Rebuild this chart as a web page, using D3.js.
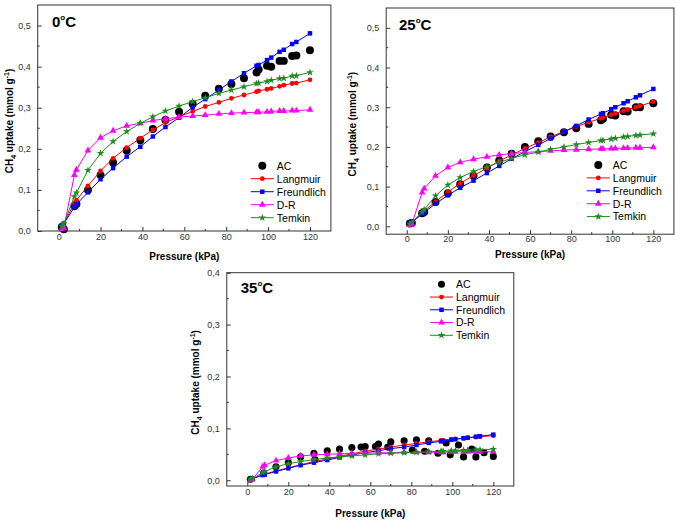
<!DOCTYPE html>
<html>
<head>
<meta charset="utf-8">
<script src="https://cdn.jsdelivr.net/npm/d3@7"></script>
<style>
  body { margin: 0; background: #fff; }
  svg { display: block; font-family: "Liberation Sans", Arial, sans-serif; }
</style>
</head>
<body>
<main></main>
<script>
// pressure points (kPa) shared by the fitted models and AC in the 0 and 25 C panels
const pressure = [1.5, 2.5, 7.5, 8.5, 14, 20, 26, 32.5, 39, 45, 51, 57.5, 64, 70, 76.5, 82.5, 88.5, 94.5, 95.5, 99.5, 101.5, 105.5, 107.5, 111.5, 113.5, 120];

const ac0 = [0.010, 0.004, 0.060, 0.066, 0.100, 0.136, 0.167, 0.196, 0.221, 0.248, 0.270, 0.290, 0.309, 0.329, 0.346, 0.358, 0.372, 0.386, 0.393, 0.402, 0.400, 0.414, 0.414, 0.426, 0.427, 0.440];
const langmuir0 = [0.012, 0.018, 0.068, 0.075, 0.110, 0.146, 0.177, 0.203, 0.226, 0.246, 0.264, 0.278, 0.291, 0.303, 0.313, 0.323, 0.331, 0.339, 0.341, 0.345, 0.347, 0.352, 0.355, 0.359, 0.360, 0.368];
const freundlich0 = [0.013, 0.018, 0.058, 0.065, 0.094, 0.126, 0.153, 0.181, 0.205, 0.230, 0.253, 0.276, 0.301, 0.321, 0.343, 0.364, 0.384, 0.402, 0.404, 0.416, 0.422, 0.436, 0.441, 0.455, 0.460, 0.481];
const dr0 = [0.004, 0.008, 0.136, 0.149, 0.196, 0.227, 0.244, 0.256, 0.262, 0.269, 0.273, 0.277, 0.280, 0.282, 0.285, 0.287, 0.288, 0.289, 0.289, 0.290, 0.291, 0.292, 0.292, 0.293, 0.293, 0.295];
const temkin0 = [0.012, 0.018, 0.084, 0.093, 0.148, 0.189, 0.218, 0.242, 0.262, 0.278, 0.292, 0.304, 0.315, 0.324, 0.335, 0.343, 0.351, 0.359, 0.360, 0.364, 0.367, 0.371, 0.372, 0.377, 0.378, 0.386];

const ac25 = [0.007, 0.008, 0.033, 0.036, 0.061, 0.083, 0.106, 0.127, 0.148, 0.166, 0.183, 0.200, 0.214, 0.226, 0.237, 0.247, 0.258, 0.267, 0.271, 0.281, 0.279, 0.290, 0.289, 0.300, 0.300, 0.310];
const langmuir25 = [0.006, 0.010, 0.034, 0.039, 0.062, 0.086, 0.108, 0.128, 0.146, 0.164, 0.180, 0.196, 0.211, 0.225, 0.239, 0.251, 0.262, 0.272, 0.274, 0.281, 0.284, 0.291, 0.294, 0.300, 0.303, 0.314];
const freundlich25 = [0.006, 0.010, 0.031, 0.035, 0.057, 0.078, 0.097, 0.115, 0.134, 0.152, 0.170, 0.188, 0.205, 0.221, 0.238, 0.253, 0.269, 0.283, 0.285, 0.295, 0.300, 0.310, 0.315, 0.325, 0.330, 0.346];
const dr25 = [0.003, 0.006, 0.085, 0.095, 0.127, 0.148, 0.161, 0.169, 0.175, 0.180, 0.183, 0.186, 0.188, 0.190, 0.192, 0.193, 0.194, 0.195, 0.195, 0.196, 0.196, 0.197, 0.197, 0.198, 0.198, 0.199];
const temkin25 = [0.006, 0.010, 0.036, 0.042, 0.077, 0.104, 0.123, 0.138, 0.150, 0.161, 0.171, 0.180, 0.187, 0.194, 0.200, 0.206, 0.211, 0.216, 0.217, 0.220, 0.222, 0.225, 0.226, 0.229, 0.230, 0.233];

// 35 C: AC was measured at its own pressures
const pressureAc35 = [1.5, 8, 14, 20, 26, 32.5, 33, 39, 45, 51, 55.5, 57.5, 62.5, 64, 68.5, 70, 76.5, 80.5, 82.5, 86.5, 88.5, 93, 97, 99, 103, 105.5, 109.5, 111.5, 115.5, 120];
const ac35 = [0.002, 0.014, 0.026, 0.034, 0.045, 0.052, 0.040, 0.057, 0.060, 0.063, 0.064, 0.065, 0.065, 0.070, 0.064, 0.074, 0.076, 0.058, 0.078, 0.056, 0.076, 0.052, 0.072, 0.049, 0.068, 0.045, 0.060, 0.045, 0.053, 0.046];
const langmuir35 = [0.002, 0.003, 0.011, 0.012, 0.018, 0.024, 0.030, 0.036, 0.041, 0.046, 0.051, 0.056, 0.060, 0.064, 0.068, 0.071, 0.074, 0.077, 0.077, 0.079, 0.080, 0.081, 0.082, 0.083, 0.084, 0.086];
const freundlich35 = [0.002, 0.003, 0.010, 0.011, 0.017, 0.023, 0.029, 0.034, 0.039, 0.044, 0.049, 0.053, 0.057, 0.061, 0.064, 0.068, 0.072, 0.075, 0.076, 0.078, 0.079, 0.081, 0.082, 0.084, 0.085, 0.088];
const dr35 = [0.001, 0.002, 0.026, 0.029, 0.038, 0.043, 0.047, 0.049, 0.050, 0.051, 0.052, 0.052, 0.053, 0.053, 0.054, 0.054, 0.054, 0.054, 0.054, 0.055, 0.055, 0.055, 0.055, 0.055, 0.055, 0.055];
const temkin35 = [0.002, 0.003, 0.015, 0.017, 0.026, 0.032, 0.036, 0.040, 0.043, 0.045, 0.047, 0.049, 0.051, 0.052, 0.053, 0.054, 0.055, 0.056, 0.056, 0.057, 0.057, 0.058, 0.058, 0.059, 0.059, 0.060];

const seriesNames = ['AC', 'Langmuir', 'Freundlich', 'D-R', 'Temkin'];
const xTicks = [0, 20, 40, 60, 80, 100, 120];

const styles = {
  'AC': { color: '#000', symbol: d3.symbolCircle, size: 50, line: false },
  'Langmuir': { color: '#ff0000', symbol: d3.symbolCircle, size: 18, line: true },
  'Freundlich': { color: '#0000ff', symbol: d3.symbolSquare, size: 20, line: true },
  'D-R': { color: '#ff00ff', symbol: d3.symbolTriangle, size: 20, line: true },
  'Temkin': { color: '#1e8c1e', symbol: d3.symbolStar, size: 18, line: true },
};

const svg = d3.select('main')
  .append('svg')
  .attr('width', 676)
  .attr('height', 521);

function drawPanel(p) {
  const xScale = d3.scaleLinear().domain([-10, 130]).range([p.left, p.right]);
  const yScale = d3.scaleLinear().domain(p.yDomain).range([p.bottom, p.top]);
  const g = svg.append('g');

  // frame
  g.append('rect')
    .attr('x', p.left).attr('y', p.top)
    .attr('width', p.right - p.left).attr('height', p.bottom - p.top)
    .attr('fill', 'none').attr('stroke', '#333').attr('stroke-width', 1);

  // x ticks (inward) + minor
  const xAxis = d3.axisBottom(xScale).tickValues(xTicks).tickSize(-4).tickPadding(p.xPad);
  const xg = g.append('g').attr('transform', `translate(0 ${p.bottom})`).call(xAxis);
  xg.select('.domain').remove();
  xg.selectAll('text').attr('font-size', 9).attr('fill', '#333');
  xg.selectAll('line').attr('stroke', '#333');
  g.append('g').selectAll('line')
    .data(d3.range(10, 130, 20))
    .join('line')
    .attr('x1', d => xScale(d)).attr('x2', d => xScale(d))
    .attr('y1', p.bottom).attr('y2', p.bottom - 2)
    .attr('stroke', '#333');

  const yTicks = d3.range(0, p.yMax + 0.001, 0.1);
  const yAxis = d3.axisLeft(yScale).tickValues(yTicks).tickSize(-4).tickPadding(7)
    .tickFormat(d => d.toFixed(1).replace('.', ','));
  const yg = g.append('g').attr('transform', `translate(${p.left} 0)`).call(yAxis);
  yg.select('.domain').remove();
  yg.selectAll('text').attr('font-size', 9).attr('fill', '#333');
  yg.selectAll('line').attr('stroke', '#333');
  g.append('g').selectAll('line')
    .data(d3.range(0.05, p.yMax, 0.1))
    .join('line')
    .attr('x1', p.left).attr('x2', p.left + 2)
    .attr('y1', d => yScale(d)).attr('y2', d => yScale(d))
    .attr('stroke', '#333');

  // axis titles
  g.append('text')
    .attr('x', (p.left + p.right) / 2)
    .attr('y', p.xTitleY)
    .attr('text-anchor', 'middle')
    .attr('font-size', 10).attr('font-weight', 'bold')
    .text('Pressure (kPa)');

  const yt = g.append('text')
    .attr('transform', `translate(${p.yTitleX} ${(p.top + p.bottom) / 2 + 3}) rotate(-90)`)
    .attr('text-anchor', 'middle')
    .attr('font-size', 10).attr('font-weight', 'bold');
  yt.append('tspan').text('CH');
  yt.append('tspan').attr('font-size', 7).attr('dy', 3).text('4');
  yt.append('tspan').attr('dy', -3).text(' uptake (mmol g');
  yt.append('tspan').attr('font-size', 7).attr('dy', -4).text('-1');
  yt.append('tspan').attr('dy', 4).text(')');

  // panel label
  const tl = g.append('text')
    .attr('x', p.titleX).attr('y', p.titleY)
    .attr('font-size', 15).attr('font-weight', 'bold');
  tl.append('tspan').text(p.temp);
  tl.append('tspan').attr('font-size', 8).attr('dy', -7).text('o');
  tl.append('tspan').attr('dy', 7).text('C');

  // data
  const plot = g.append('g');
  p.series.forEach(s => {
    const st = styles[s.name];
    const pts = s.x.map((x, i) => ({ x, y: s.y[i] }));
    if (st.line) {
      plot.append('path')
        .datum(pts)
        .attr('fill', 'none')
        .attr('stroke', st.color)
        .attr('stroke-width', 1)
        .attr('d', d3.line().x(d => xScale(d.x)).y(d => yScale(d.y)));
    }
    plot.append('g').selectAll('path')
      .data(pts)
      .join('path')
      .attr('transform', d => `translate(${xScale(d.x)} ${yScale(d.y)})`)
      .attr('d', d3.symbol(st.symbol, s.name === 'AC' ? p.acSize : st.size))
      .attr('fill', st.color);
  });

  // legend
  const lg = g.append('g').attr('transform', `translate(${p.legendX} ${p.legendY})`);
  seriesNames.forEach((name, i) => {
    const st = styles[name];
    const row = lg.append('g').attr('transform', `translate(0 ${i * p.legendStep})`);
    if (st.line) {
      row.append('line')
        .attr('x1', -11.5).attr('x2', 11.5)
        .attr('stroke', st.color).attr('stroke-width', 1);
    }
    row.append('path')
      .attr('d', d3.symbol(st.symbol, name === 'AC' ? p.acSize : st.size))
      .attr('fill', st.color);
    row.append('text')
      .attr('x', 14.5).attr('y', 3.8)
      .attr('font-size', 10.5)
      .text(name);
  });
}

function modelSeries(ac, acX, lang, freu, dr, tem) {
  return [
    { name: 'AC', x: acX, y: ac },
    { name: 'Langmuir', x: pressure, y: lang },
    { name: 'Freundlich', x: pressure, y: freu },
    { name: 'D-R', x: pressure, y: dr },
    { name: 'Temkin', x: pressure, y: tem },
  ];
}

drawPanel({
  temp: '0', left: 37.7, right: 330.9, top: 5, bottom: 231,
  yDomain: [0, 0.55], yMax: 0.5, xPad: 3,
  xTitleY: 259.5, yTitleX: 12.5, titleX: 52, titleY: 27,
  legendX: 262.3, legendY: 165.7, legendStep: 13, acSize: 50,
  series: modelSeries(ac0, pressure, langmuir0, freundlich0, dr0, temkin0),
});

drawPanel({
  temp: '25', left: 386.2, right: 673.9, top: 8, bottom: 234.2,
  yDomain: [-0.02, 0.55], yMax: 0.5, xPad: 1.5,
  xTitleY: 258, yTitleX: 356, titleX: 399, titleY: 29.5,
  legendX: 598.3, legendY: 165, legendStep: 12.9, acSize: 50,
  series: modelSeries(ac25, pressure, langmuir25, freundlich25, dr25, temkin25),
});

drawPanel({
  temp: '35', left: 226.8, right: 513.8, top: 272.7, bottom: 486,
  yDomain: [-0.011, 0.4], yMax: 0.4, xPad: 3,
  xTitleY: 516.5, yTitleX: 198.5, titleX: 240.7, titleY: 293,
  legendX: 441.5, legendY: 284.3, legendStep: 12.75, acSize: 40,
  series: modelSeries(ac35, pressureAc35, langmuir35, freundlich35, dr35, temkin35),
});
</script>
</body>
</html>
